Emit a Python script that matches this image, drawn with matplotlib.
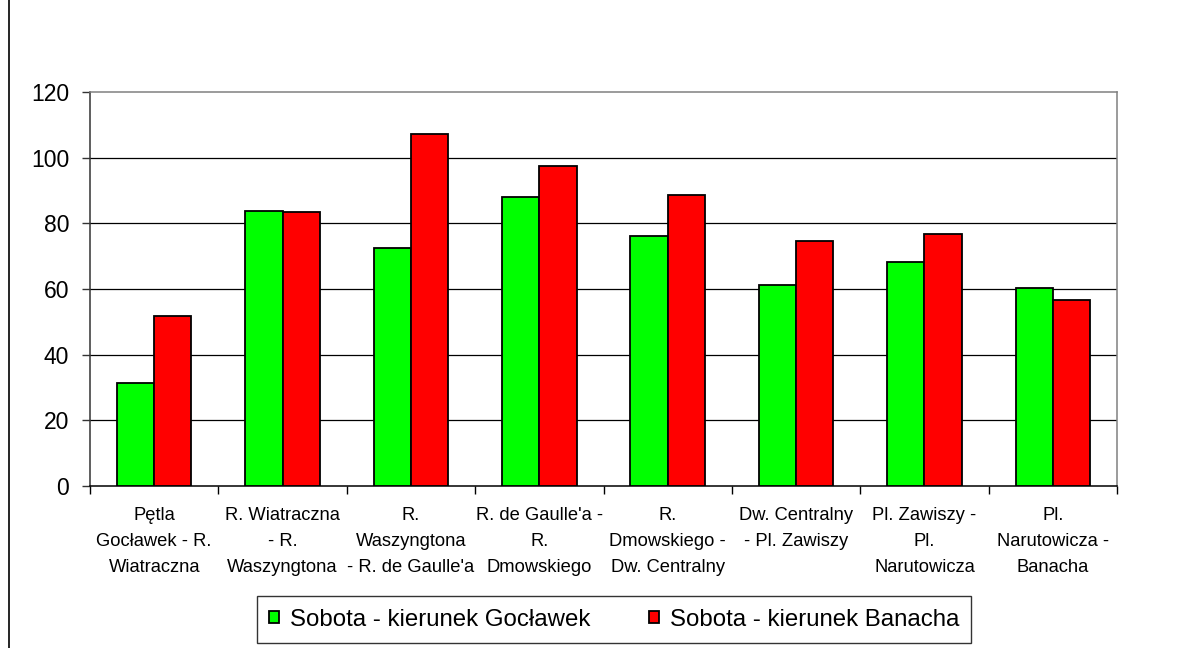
import matplotlib
matplotlib.use("Agg")
import matplotlib.pyplot as plt
import numpy as np
from matplotlib.lines import Line2D

plt.rcParams['font.family'] = ['Liberation Sans', 'DejaVu Sans']

categories = [
    "Pętla\nGocławek - R.\nWiatraczna",
    "R. Wiatraczna\n- R.\nWaszyngtona",
    "R.\nWaszyngtona\n- R. de Gaulle'a",
    "R. de Gaulle'a -\nR.\nDmowskiego",
    "R.\nDmowskiego -\nDw. Centralny",
    "Dw. Centralny\n- Pl. Zawiszy",
    "Pl. Zawiszy -\nPl.\nNarutowicza",
    "Pl.\nNarutowicza -\nBanacha",
]
goclawek = [31.5, 83.8, 72.5, 88.0, 76.2, 61.3, 68.2, 60.2]
banacha = [51.8, 83.3, 107.2, 97.6, 88.5, 74.7, 76.8, 56.6]
series_names = ["Sobota - kierunek Gocławek", "Sobota - kierunek Banacha"]
yticks = [0, 20, 40, 60, 80, 100, 120]

W, H = 1186, 648
fig = plt.figure(figsize=(W / 100, H / 100), dpi=100)
ax = fig.add_axes([90 / W, 1 - 486 / H, (1117 - 90) / W, (486 - 92) / H])

x = np.arange(len(categories))
bw = 0.29
ax.bar(x - bw / 2, goclawek, bw, color="#00FF00", edgecolor="black", linewidth=1.3,
       label=series_names[0], zorder=3)
ax.bar(x + bw / 2, banacha, bw, color="#FF0000", edgecolor="black", linewidth=1.3,
       label=series_names[1], zorder=3)

ax.set_xlim(-0.5, len(categories) - 0.5)
ax.set_ylim(0, 120)
ax.set_yticks(yticks)
ax.set_yticklabels([str(v) for v in yticks], fontsize=16.5)
for v in yticks[1:-1]:
    ax.axhline(v, color="black", linewidth=0.9, zorder=1)

ax.set_xticks(x)
ax.set_xticklabels(categories, fontsize=13.2, linespacing=1.7)
ax.set_xticks(np.arange(-0.5, len(categories), 1.0), minor=True)
ax.tick_params(axis="x", which="major", length=0, pad=15)
ax.tick_params(axis="x", which="minor", length=6, width=1, color="black", direction="out")
ax.tick_params(axis="y", length=6, width=1, color="#333333", direction="out", pad=9)

ax.spines["top"].set_color("#808080")
ax.spines["right"].set_color("#808080")
ax.spines["left"].set_color("#333333")
ax.spines["bottom"].set_color("black")
for s in ax.spines.values():
    s.set_linewidth(1.1)

leg = fig.legend(loc="center", bbox_to_anchor=(614 / W, 1 - 619.5 / H), ncol=2,
                 fontsize=17.3, frameon=True, fancybox=False, edgecolor="black",
                 handlelength=0.42, handleheight=0.42, handletextpad=0.45,
                 columnspacing=2.45, borderpad=0.5, borderaxespad=0)
leg.get_frame().set_linewidth(1.0)

fig.add_artist(Line2D([8.5 / W, 8.5 / W], [0, 1], transform=fig.transFigure,
                      color="black", linewidth=1.2))

fig.savefig("out.png", dpi=100)
